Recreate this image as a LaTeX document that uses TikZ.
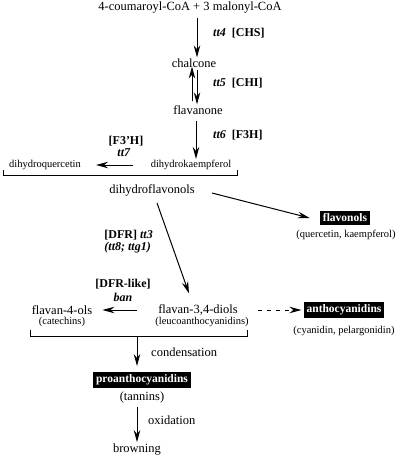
\documentclass[tikz,border=0pt]{standalone}
\usepackage{fontspec}
\setmainfont{Liberation Serif}
\usetikzlibrary{arrows.meta,positioning}

\begin{document}
\begin{tikzpicture}[x=1pt,y=-1pt,
    every node/.style={inner sep=1pt},
    cpd/.style={font=\fontsize{12.5}{14}\selectfont},
    sub/.style={font=\fontsize{10.5}{12}\selectfont},
    enz/.style={font=\fontsize{12}{14}\selectfont\bfseries},
    blk/.style={fill=black,text=white,font=\fontsize{11.5}{13}\selectfont\bfseries,inner xsep=3pt,inner ysep=2.5pt},
    rx/.style={-{Stealth[length=12pt,width=6.5pt]},line width=1pt},
    brk/.style={line width=0.9pt}]
    % Canvas
    \useasboundingbox (0,0) rectangle (400,461);
    % Compounds
    \node[cpd] (coa) at (190,8) {4-coumaroyl-CoA + 3 malonyl-CoA};
    \node[cpd] (chal) at (194,63) {chalcone};
    \node[cpd] (flvn) at (198,110) {flavanone};
    \node[sub] (dhk) at (191,165) {dihydrokaempferol};
    \node[sub] (dhq) at (45,165) {dihydroquercetin};
    \node[cpd] (dhf) at (152,190) {dihydroflavonols};
    \node[blk] (flvl) at (345,218) {flavonols};
    \node[sub] (qk) at (346,235) {(quercetin, kaempferol)};
    \node[cpd] (f34) at (198,310) {flavan-3,4-diols};
    \node[sub] (leu) at (202,322) {(leucoanthocyanidins)};
    \node[cpd] (f4) at (62,310) {flavan-4-ols};
    \node[sub] (cat) at (62,322) {(catechins)};
    \node[blk] (antho) at (344,310) {anthocyanidins};
    \node[sub] (cp) at (344,331) {(cyanidin, pelargonidin)};
    \node[blk] (pro) at (142,380) {proanthocyanidins};
    \node[cpd] (tan) at (142,397) {(tannins)};
    \node[cpd] (brown) at (137,450) {browning};
    % Enzymes / genes
    \node[enz,anchor=west] (chs) at (212,33) {\textit{tt4}\ \ [CHS]};
    \node[enz,anchor=west] (chi) at (212,83) {\textit{tt5}\ \ [CHI]};
    \node[enz,anchor=west] (f3h) at (212,135) {\textit{tt6}\ \ [F3H]};
    \node[enz] (f3ph) at (126,141) {[F3'H]};
    \node[enz] (tt7) at (124,153) {\textit{tt7}};
    \node[enz,anchor=east] (dfr) at (154,235) {[DFR] \textit{tt3}};
    \node[enz,anchor=east] (tt8) at (152,248) {\textit{(tt8; ttg1)}};
    \node[enz] (dfrl) at (123,284) {[DFR-like]};
    \node[enz] (ban) at (123,297) {\textit{ban}};
    \node[cpd,anchor=west] (cond) at (150,352) {condensation};
    \node[cpd,anchor=west] (oxid) at (147,420) {oxidation};
    % Brackets
    \coordinate (b1) at (120,175);
    \draw[brk] (3,170) -- (3,175) -- (237,175) -- (237,170);
    \coordinate (b2) at (137,336);
    \draw[brk] (30,330) -- (30,336) -- (247,336) -- (247,330);
    % Reactions
    \draw[rx] ([xshift=7pt,yshift=-3pt]coa.south) -- ([xshift=3pt]chal.north);
    \draw[rx] ([xshift=-6pt,yshift=3pt]flvn.north) -- ([xshift=-2pt,yshift=2pt]chal.south);
    \draw[rx] ([xshift=3pt,yshift=-1pt]chal.south) -- ([xshift=-1pt]flvn.north);
    \draw[rx] ([xshift=-2pt,yshift=-5pt]flvn.south) -- ([xshift=5pt]dhk.north);
    \draw[rx] ([xshift=-17pt]dhk.west) -- ([xshift=14pt]dhq.east);
    \draw[rx] ([xshift=16pt,yshift=-3pt]dhf.east) -- ([xshift=-10pt]flvl.west);
    \draw[rx] ([xshift=5pt,yshift=-6pt]dhf.south) -- ([xshift=-9pt,yshift=10pt]f34.north);
    \draw[rx] ([xshift=-20pt]f34.west) -- ([xshift=9pt]f4.east);
    \draw[rx,dashed,dash pattern=on 4pt off 5pt] ([xshift=8pt]leu.east |- f34) -- ([xshift=-2pt]antho.west);
    \draw[rx] (b2) -- ([xshift=-5pt,yshift=6pt]pro.north);
    \draw[rx] ([xshift=-5pt,yshift=-3pt]tan.south) -- ([yshift=1pt]brown.north);
\end{tikzpicture}
\end{document}
